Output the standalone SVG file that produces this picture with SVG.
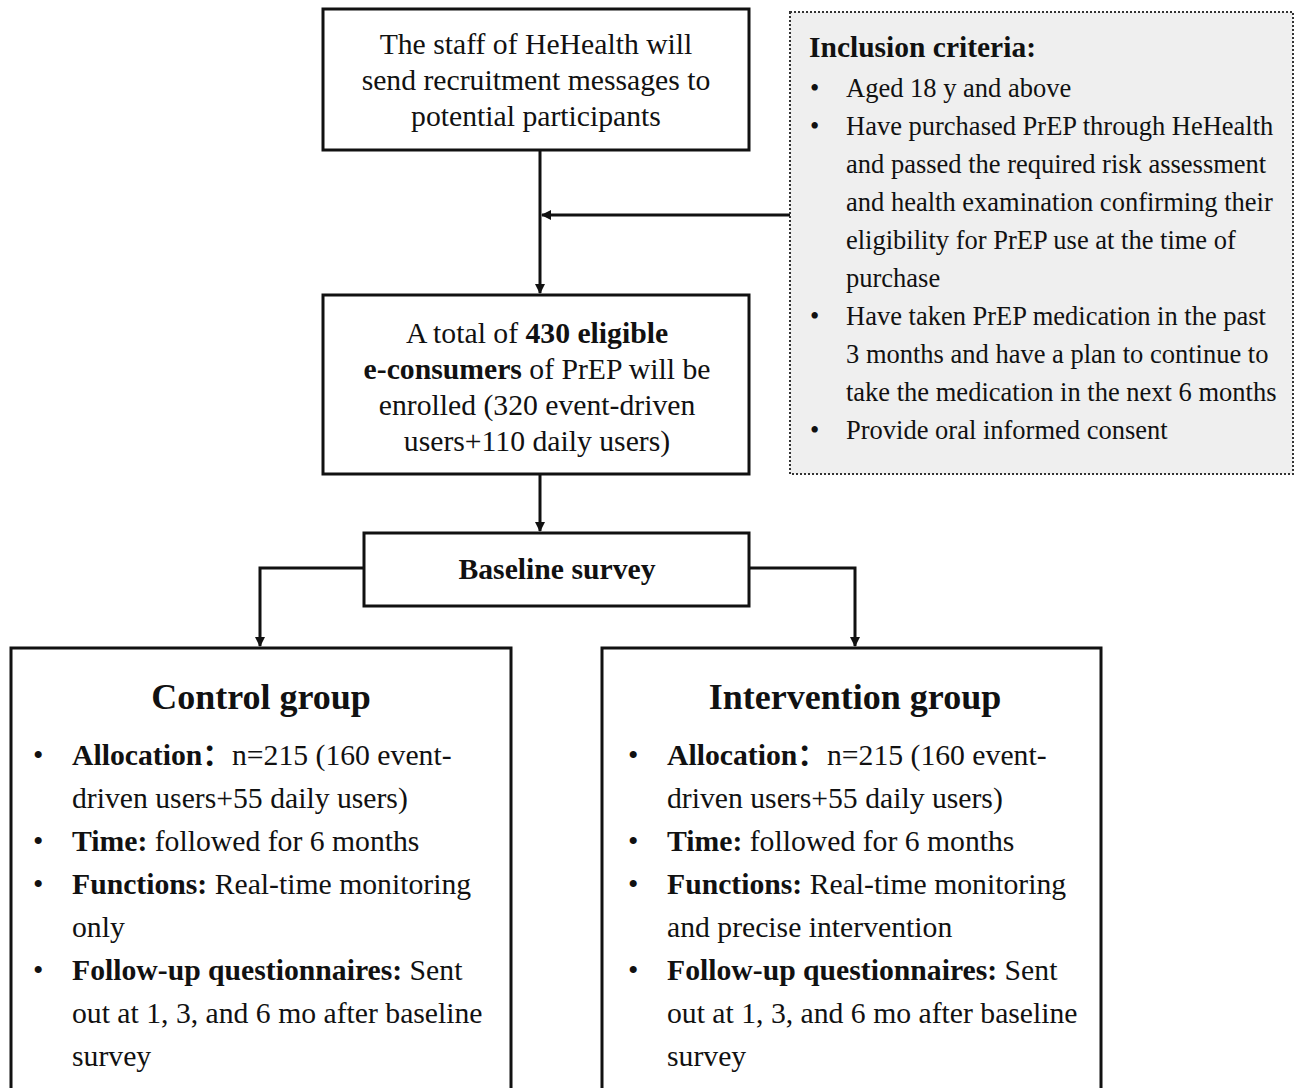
<svg xmlns="http://www.w3.org/2000/svg" width="1294" height="1088" viewBox="0 0 1294 1088">
<defs>
<marker id="ah" markerWidth="10" markerHeight="10" refX="9" refY="5" orient="auto" markerUnits="userSpaceOnUse">
<path d="M0,0 L10,5 L0,10 Z" fill="#111"/>
</marker>
<style>
.box{fill:#fff;stroke:#111;stroke-width:3}
.t{font-family:"Liberation Serif","Times New Roman","Noto Sans CJK SC",serif;fill:#111}
.c{text-anchor:middle}
.m{font-size:29.7px}
.s{font-size:26.5px}
.b{font-weight:bold}
.conn{fill:none;stroke:#111;stroke-width:3}
</style>
</defs>
<rect width="1294" height="1088" fill="#fff"/>
<g id="connectors">
<line class="conn" x1="540" y1="150" x2="540" y2="293" marker-end="url(#ah)"/>
<line class="conn" x1="790" y1="215" x2="542" y2="215" marker-end="url(#ah)"/>
<line class="conn" x1="540" y1="474" x2="540" y2="531" marker-end="url(#ah)"/>
<polyline class="conn" points="364,568 260,568 260,646" marker-end="url(#ah)"/>
<polyline class="conn" points="749,568 855,568 855,646" marker-end="url(#ah)"/>
</g>
<g id="recruit">
<rect class="box" x="323" y="9" width="426" height="141"/>
<text class="t m c" x="536" y="54">The staff of HeHealth will</text>
<text class="t m c" x="536" y="90">send recruitment messages to</text>
<text class="t m c" x="536" y="126">potential participants</text>
</g>
<g id="inclusion">
<rect x="790" y="12" width="503" height="462" fill="#efefef" stroke="#333" stroke-width="2" stroke-dasharray="2,2"/>
<text class="t b" x="809" y="57" font-size="29.5">Inclusion criteria:</text>
<g class="t s">
<text x="810" y="97">•</text><text x="846" y="97">Aged 18 y and above</text>
<text x="810" y="135">•</text><text x="846" y="135">Have purchased PrEP through HeHealth</text>
<text x="846" y="173">and passed the required risk assessment</text>
<text x="846" y="211">and health examination confirming their</text>
<text x="846" y="249">eligibility for PrEP use at the time of</text>
<text x="846" y="287">purchase</text>
<text x="810" y="325">•</text><text x="846" y="325">Have taken PrEP medication in the past</text>
<text x="846" y="363">3 months and have a plan to continue to</text>
<text x="846" y="401">take the medication in the next 6 months</text>
<text x="810" y="439">•</text><text x="846" y="439">Provide oral informed consent</text>
</g>
</g>
<g id="enrolled">
<rect class="box" x="323" y="295" width="426" height="179"/>
<text class="t m c" x="537" y="343">A total of <tspan class="b">430 eligible</tspan></text>
<text class="t m c" x="537" y="379"><tspan class="b">e-consumers</tspan> of PrEP will be</text>
<text class="t m c" x="537" y="415">enrolled (320 event-driven</text>
<text class="t m c" x="537" y="451">users+110 daily users)</text>
</g>
<g id="baseline">
<rect class="box" x="364" y="533" width="385" height="73"/>
<text class="t m c b" x="557" y="579">Baseline survey</text>
</g>
<g id="control">
<rect class="box" x="11" y="648" width="500" height="450"/>
<text class="t c b" x="261" y="709" font-size="36">Control group</text>
<g class="t m">
<text x="33" y="765">•</text><text x="72" y="765"><tspan class="b">Allocation：</tspan>n=215 (160 event-</text>
<text x="72" y="808">driven users+55 daily users)</text>
<text x="33" y="851">•</text><text x="72" y="851"><tspan class="b">Time:</tspan> followed for 6 months</text>
<text x="33" y="894">•</text><text x="72" y="894"><tspan class="b">Functions:</tspan> Real-time monitoring</text>
<text x="72" y="937">only</text>
<text x="33" y="980">•</text><text x="72" y="980"><tspan class="b">Follow-up questionnaires:</tspan> Sent</text>
<text x="72" y="1023">out at 1, 3, and 6 mo after baseline</text>
<text x="72" y="1066">survey</text>
</g>
</g>
<g id="intervention">
<rect class="box" x="602" y="648" width="499" height="450"/>
<text class="t c b" x="855" y="709" font-size="36">Intervention group</text>
<g class="t m">
<text x="628" y="765">•</text><text x="667" y="765"><tspan class="b">Allocation：</tspan>n=215 (160 event-</text>
<text x="667" y="808">driven users+55 daily users)</text>
<text x="628" y="851">•</text><text x="667" y="851"><tspan class="b">Time:</tspan> followed for 6 months</text>
<text x="628" y="894">•</text><text x="667" y="894"><tspan class="b">Functions:</tspan> Real-time monitoring</text>
<text x="667" y="937">and precise intervention</text>
<text x="628" y="980">•</text><text x="667" y="980"><tspan class="b">Follow-up questionnaires:</tspan> Sent</text>
<text x="667" y="1023">out at 1, 3, and 6 mo after baseline</text>
<text x="667" y="1066">survey</text>
</g>
</g>
</svg>
